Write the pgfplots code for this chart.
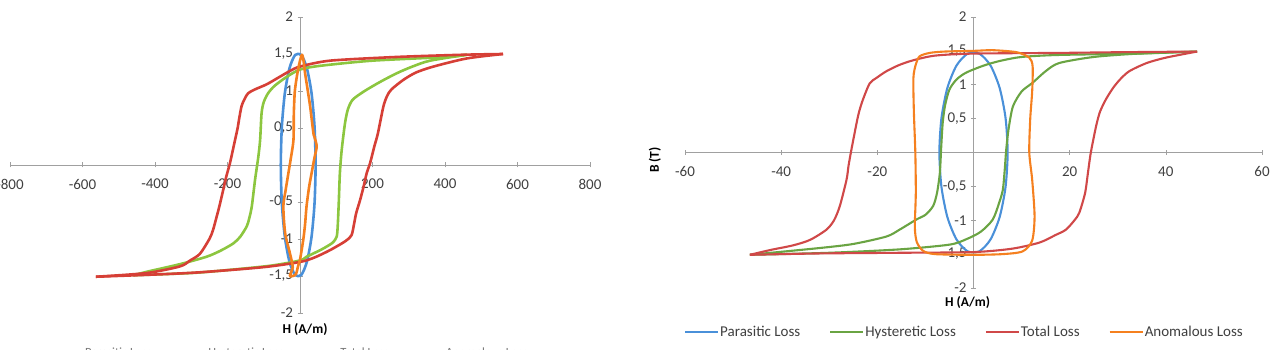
\documentclass[border=0pt]{standalone}
\usepackage{fontspec}
\setmainfont{Carlito}
\usepackage{pgfplots}
\pgfplotsset{compat=1.18}
\definecolor{cblue}{HTML}{4A90D9}
\definecolor{cgreenL}{HTML}{8CC63F}
\definecolor{cgreenR}{HTML}{6AA443}
\definecolor{credL}{HTML}{D63F36}
\definecolor{credR}{HTML}{D04848}
\definecolor{corange}{HTML}{F5801F}
\definecolor{axgray}{HTML}{A0A0A0}
\definecolor{lbl}{HTML}{404040}
\pgfplotsset{
  hyst/.style={
    scale only axis, axis lines=middle,
    axis line style={-, draw=axgray, line width=0.8pt},
    tick style={draw=axgray, line width=0.6pt},
    major tick length=5pt,
    ymin=-2, ymax=2,
    ytick={-2,-1.5,-1,-0.5,0,0.5,1,1.5,2},
    /pgf/number format/assume math mode=true,
    /pgf/number format/use comma,
    tick label style={font=\fontsize{15}{17}\selectfont, text=lbl},
    xticklabel style={yshift=-8pt},
    yticklabel style={xshift=-1pt},
    every axis plot/.append style={no marks, line join=round, smooth, tension=0.45},
    clip=false,
    legend columns=4,
    legend cell align=left,
    legend image code/.code={\draw[##1] (0pt,0pt) -- (33pt,0pt);},
  }
}
\begin{document}
\begin{tikzpicture}
\path[use as bounding box] (0pt,0pt) rectangle (1275pt,350pt);
% ---------------- left panel ----------------
\begin{axis}[hyst,
  at={(10pt,37pt)}, anchor=south west,
  width=580pt, height=296pt,
  xmin=-800, xmax=800,
  xtick={-800,-600,-400,-200,0,200,400,600,800},
  xlabel={\textbf{H (A/m)}},
  xlabel style={at={(axis cs:0,-2)}, anchor=center, yshift=-17pt, xshift=5pt,
    font=\fontsize{13.5}{15}\selectfont},
  every axis plot/.append style={line width=2.6pt},
  legend style={at={(axis description cs:0.4845,-0.104)}, anchor=north, draw=none,
    font=\fontsize{12.5}{14}\selectfont, text=lbl!70,
    /tikz/every even column/.append style={column sep=24pt},
    nodes={inner xsep=1pt}},
  legend image code/.code={\draw[#1] (0pt,0pt) -- (28pt,0pt);},
]
\addplot[cblue, smooth cycle] coordinates {
(43,0) (40.1,0.516) (31.8,0.971) (19,1.308) (3.4,1.487) (-13.4,1.487) (-29,1.308)
(-41.8,0.971) (-50.1,0.516) (-53,0) (-50.1,-0.516) (-41.8,-0.971) (-29,-1.308)
(-13.4,-1.487) (3.4,-1.487) (19,-1.308) (31.8,-0.971) (40.1,-0.516)};
\addlegendentry{Parasitic Loss}
\addplot[cgreenL] coordinates {
(460,1.49) (405,1.46) (200,1.41) (55,1.34) (0,1.29) (-37,1.19) (-70,1.07) (-88,0.97)
(-100,0.85) (-106,0.70) (-110,0.34) (-115,0.11) (-124,-0.2) (-133,-0.56) (-140,-0.72)
(-147,-0.83) (-165,-0.97) (-184,-1.06) (-220,-1.16) (-258,-1.24) (-331,-1.34) (-420,-1.44)
(-460,-1.49)};
\addlegendentry{Hysteretic Loss}
\addplot[cgreenL, forget plot] coordinates {
(-460,-1.49) (-300,-1.46) (-200,-1.42) (-80,-1.36) (0,-1.29) (18,-1.24) (60,-1.14) (90,-1.05)
(101,-0.97) (104,-0.83) (107,-0.5) (110,-0.11) (115,0.2) (124,0.56) (132,0.75)
(145,0.88) (175,0.99) (220,1.12) (267,1.24) (310,1.33) (359,1.41) (460,1.49)};
\addplot[credL] coordinates {
(560,1.50) (450,1.49) (267,1.46) (83,1.41) (0,1.33) (-28,1.27) (-60,1.18) (-92,1.09)
(-125,1.02) (-143,0.97) (-152,0.90) (-161,0.80) (-168,0.62) (-172,0.50) (-180,0.32)
(-193,0.03) (-203,-0.15) (-212,-0.34) (-222,-0.55) (-230,-0.70) (-240,-0.88) (-250,-1.0)
(-276,-1.20) (-303,-1.29) (-331,-1.37) (-423,-1.46) (-563,-1.51)};
\addlegendentry{Total Loss}
\addplot[credL, forget plot] coordinates {
(-563,-1.51) (-400,-1.48) (-276,-1.45) (-100,-1.38) (0,-1.31) (40,-1.25) (83,-1.15) (125,-1.03)
(142,-0.95) (149,-0.80) (155,-0.65) (166,-0.47) (176,-0.28) (184,-0.11) (193,0.02)
(205,0.25) (215,0.43) (230,0.79) (240,0.93) (252,1.02) (285,1.15) (320,1.25) (368,1.33)
(460,1.44) (560,1.50)};
\addplot[corange, smooth cycle] coordinates {
(5,1.49) (-5,1.3) (-14,1.01) (-17,0.7) (-18,0.34) (-25,0.1) (-32,-0.11) (-40,-0.35)
(-46,-0.56) (-41,-0.92) (-28,-1.19) (-20,-1.38) (-28,-1.50) (-12,-1.48) (-5,-1.36)
(0,-1.28) (9,-1.01) (14,-0.8) (18,-0.56) (25,-0.3) (32,-0.11) (40,0.1) (46,0.25)
(40,0.38) (37,0.43) (28,0.79) (20,1.05) (14,1.24) (10,1.4)};
\addlegendentry{Anomalous Loss}
\end{axis}
% ---------------- right panel ----------------
\begin{axis}[hyst,
  at={(685pt,62pt)}, anchor=south west,
  width=577pt, height=271pt,
  xmin=-60, xmax=60,
  xtick={-60,-40,-20,0,20,40,60},
  xlabel={\textbf{H (A/m)}},
  xlabel style={at={(axis cs:0,-2)}, anchor=center, yshift=-15pt, xshift=-6pt,
    font=\fontsize{13.5}{15}\selectfont},
  ylabel={\textbf{B (T)}},
  ylabel style={at={(axis description cs:-0.052,0.472)}, anchor=center, rotate=90,
    font=\fontsize{13.5}{15}\selectfont},
  every axis plot/.append style={line width=2.1pt},
  legend style={at={(axis description cs:0.4835,-0.162)}, anchor=center, draw=none,
    font=\fontsize{15}{17}\selectfont, text=lbl,
    /tikz/every even column/.append style={column sep=28pt},
    nodes={inner xsep=1pt}},
]
\addplot[cblue, smooth cycle] coordinates {
(7.1,0) (6.67,0.506) (5.44,0.952) (3.55,1.282) (1.24,1.458) (-1.24,1.458) (-3.55,1.282)
(-5.44,0.952) (-6.67,0.506) (-7.1,0) (-6.67,-0.506) (-5.44,-0.952) (-3.55,-1.282)
(-1.24,-1.458) (1.24,-1.458) (3.55,-1.282) (5.44,-0.952) (6.67,-0.506)};
\addlegendentry{Parasitic Loss}
\addplot[cgreenR] coordinates {
(46.5,1.49) (34.4,1.46) (17.8,1.44) (10,1.41) (5.4,1.35) (2,1.28) (-1.5,1.18) (-3.5,1.08)
(-5,0.93) (-5.9,0.7) (-6.4,0.44) (-6.7,0.1) (-7,-0.3) (-7.6,-0.6) (-8.4,-0.79) (-10,-0.92)
(-11.9,-0.99) (-15.4,-1.14) (-18.1,-1.24) (-25,-1.35) (-32,-1.41) (-46.5,-1.51)};
\addlegendentry{Hysteretic Loss}
\addplot[cgreenR, forget plot] coordinates {
(-46.5,-1.51) (-30,-1.48) (-15.4,-1.43) (-5,-1.36) (-1.5,-1.28) (1.5,-1.17) (4,-0.99) (5.3,-0.75)
(6.1,-0.55) (6.5,-0.25) (6.8,0.04) (7.3,0.35) (8.2,0.68) (10,0.9) (12.3,1.03) (15,1.2)
(17.8,1.32) (25,1.41) (34.4,1.46) (46.5,1.49)};
\addplot[credR] coordinates {
(46.5,1.49) (30,1.48) (17.8,1.47) (0,1.46) (-8,1.43) (-12.6,1.36) (-15.5,1.29) (-18.1,1.2)
(-20.2,1.1) (-21.6,1.02) (-23,0.78) (-23.8,0.6) (-24.3,0.44) (-25.4,0.04) (-26.0,-0.2)
(-26.4,-0.4) (-27.8,-0.79) (-29,-1.0) (-30.6,-1.14) (-34,-1.29) (-37.5,-1.37) (-42.3,-1.44)
(-46.5,-1.51)};
\addlegendentry{Total Loss}
\addplot[credR, forget plot] coordinates {
(-46.5,-1.51) (-32,-1.49) (-15,-1.48) (0,-1.47) (8,-1.42) (13.7,-1.33) (17,-1.22) (19.2,-1.14) (21,-1.0)
(22,-0.89) (23.2,-0.6) (23.8,-0.3) (24.4,0) (25.5,0.39) (26.3,0.6) (27.5,0.78) (29,0.95)
(30.5,1.08) (32.4,1.2) (36,1.32) (40,1.4) (46.5,1.49)};
\addplot[corange, smooth cycle] coordinates {
(0,1.5) (-6,1.49) (-9.1,1.47) (-11.2,1.42) (-12,1.3) (-12.5,1.1) (-12.4,0.6) (-12.1,0.0)
(-12,-0.6) (-12.2,-1.1) (-11.8,-1.32) (-10.5,-1.45) (-8,-1.5) (0,-1.51) (6,-1.5)
(10.2,-1.46) (12.2,-1.3) (12.7,-0.94) (12.2,-0.4) (11.6,0) (11.8,0.5) (12.2,0.9)
(12.3,1.27) (11.6,1.40) (9,1.48) (4,1.51)};
\addlegendentry{Anomalous Loss}
\end{axis}
\end{tikzpicture}
\end{document}
